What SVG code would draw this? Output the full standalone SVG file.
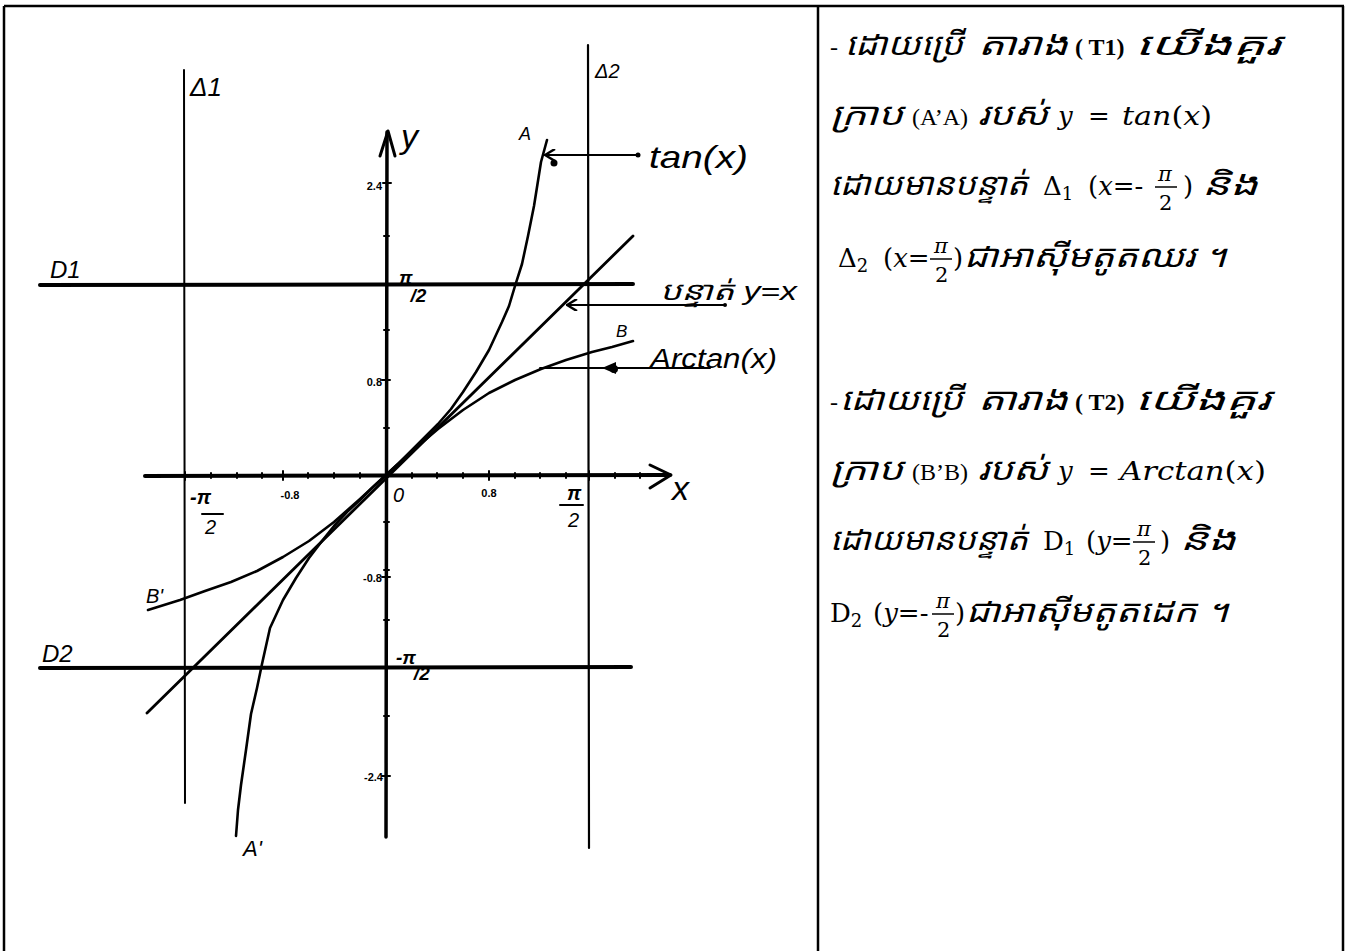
<svg xmlns="http://www.w3.org/2000/svg" width="1350" height="951" viewBox="0 0 1350 951">
<style>
.bd{stroke:#000;stroke-width:2.5;fill:none}
.ln{stroke:#000;fill:none;stroke-linecap:round;stroke-linejoin:round}
.hw{font-family:"Liberation Sans",sans-serif;font-style:italic;fill:#000}
.hs{font-family:"Liberation Sans",sans-serif;font-weight:bold;fill:#000;font-size:11px}
.km{font-family:"Noto Sans Khmer","Khmer OS","Noto Sans",sans-serif;font-style:italic;font-size:31px;fill:#000}
.tm{font-family:"Liberation Serif",serif;font-size:24px;fill:#000}
.tb{font-family:"Liberation Serif",serif;font-size:24px;font-weight:bold;fill:#000}
.mi{font-family:"DejaVu Serif",serif;font-style:italic;font-size:26px;fill:#000}
.mn{font-family:"DejaVu Serif",serif;font-size:26px;fill:#000}
.fi{font-family:"DejaVu Serif",serif;font-style:italic;font-size:21px;fill:#000}
.fn{font-family:"DejaVu Serif",serif;font-size:21px;fill:#000}
.sb{font-size:18px}
</style>
<defs>
<marker id="ah" viewBox="0 0 12 12" refX="11" refY="6" markerWidth="12" markerHeight="12" markerUnits="userSpaceOnUse" orient="auto">
<path d="M1,0 L11,6 L1,12" fill="none" stroke="#000" stroke-width="2.5"/>
</marker>
</defs>
<rect width="1350" height="951" fill="#fff"/>

<g id="table">
<line class="bd" x1="4" y1="6" x2="1344" y2="6"/>
<line class="bd" x1="4" y1="6" x2="4" y2="951"/>
<line class="bd" x1="818" y1="6" x2="818" y2="951"/>
<line class="bd" x1="1343" y1="6" x2="1343" y2="951"/>
</g>

<g id="asymptotes">
<line class="ln" x1="184" y1="70" x2="185" y2="803" stroke-width="2"/>
<line class="ln" x1="588" y1="45" x2="589" y2="848" stroke-width="2.2"/>
<line class="ln" x1="40" y1="285" x2="633" y2="284" stroke-width="4"/>
<line class="ln" x1="40" y1="668" x2="631" y2="667" stroke-width="4"/>
<text class="hw" x="190" y="96" font-size="26">Δ1</text>
<text class="hw" x="595" y="78" font-size="20">Δ2</text>
<text class="hw" x="50" y="278" font-size="24">D1</text>
<text class="hw" x="42" y="662" font-size="24">D2</text>
</g>

<g id="axes">
<line class="ln" x1="145" y1="476" x2="670" y2="475" stroke-width="4"/>
<path class="ln" d="M650,465 L671,475 L650,488" stroke-width="3"/>
<line class="ln" x1="387" y1="132" x2="386" y2="837" stroke-width="3.5"/>
<path class="ln" d="M380,156 L388,131 L395,156" stroke-width="3"/>
<g class="ln" stroke-width="2">
<path d="M185,472v8 M211,473v5 M237,473v5 M262,473v5 M283,471v9 M308,473v5 M334,473v5 M360,473v5 M412,473v5 M437,473v5 M463,473v5 M489,471v9 M515,473v5 M540,473v5 M566,473v5 M589,471v9 M615,473v5 M640,473v5"/>
<path d="M383,183h8 M384,236h5 M384,284h5 M384,330h5 M382,380h8 M384,428h5 M384,522h5 M384,570h5 M382,577h8 M384,620h5 M384,716h5 M382,776h8"/>
</g>
<text class="hw" x="401" y="148" font-size="34">y</text>
<text class="hw" x="672" y="500" font-size="34">x</text>
<text class="hw" x="393" y="502" font-size="20">0</text>
<text class="hs" x="382" y="190" text-anchor="end">2.4</text>
<text class="hs" x="382" y="386" text-anchor="end">0.8</text>
<text class="hs" x="382" y="582" text-anchor="end">-0.8</text>
<text class="hs" x="383" y="781" text-anchor="end">-2.4</text>
<text class="hs" x="290" y="499" text-anchor="middle">-0.8</text>
<text class="hs" x="489" y="497" text-anchor="middle">0.8</text>
<text class="hw" x="190" y="504" font-size="20" font-style="normal" font-weight="bold">-π</text>
<line class="ln" x1="202" y1="514" x2="223" y2="514" stroke-width="2"/>
<text class="hw" x="205" y="534" font-size="20">2</text>
<text class="hw" x="567" y="500" font-size="20" font-style="normal" font-weight="bold">π</text>
<line class="ln" x1="560" y1="505" x2="583" y2="505" stroke-width="2"/>
<text class="hw" x="568" y="527" font-size="20">2</text>
<text class="hw" x="399" y="284" font-size="19" font-weight="bold">π<tspan dx="-2" dy="18">/2</tspan></text>
<text class="hw" x="396" y="664" font-size="19" font-weight="bold">-π<tspan dx="-2" dy="16">/2</tspan></text>
</g>

<g id="curve-tan">
<polyline class="ln" stroke-width="2.6" points="236,836 238,810 241,785 246,750 251,714 257,688 262,664 270,628 283,600 296,578 309,558 322,541 334,526 347,512 360,500 373,487 386,475 399,463 412,450 425,437 438,424 451,409 463,392 476,372 489,350 502,322 509,306 515,286 522,264 528,236 534,206 541,162 547,140"/>
<text class="hw" x="519" y="140" font-size="18">A</text>
<text class="hw" x="243" y="856" font-size="22">A'</text>
</g>

<g id="curve-arctan">
<polyline class="ln" stroke-width="2.6" points="148,610 164,605 180,600 205,591 231,582 257,571 283,557 309,541 334,522 360,499 386,475 412,451 438,429 463,410 489,393 515,380 541,369 566,360 592,352 612,347 633,341"/>
<text class="hw" x="616" y="337" font-size="17" font-style="normal">B</text>
<text class="hw" x="146" y="603" font-size="20" font-style="normal">B'</text>
</g>

<g id="line-yx">
<line class="ln" x1="147" y1="713" x2="633" y2="236" stroke-width="2.8"/>
</g>

<g id="connectors">
<line class="ln" x1="638" y1="155" x2="545" y2="155" stroke-width="2" marker-end="url(#ah)"/>
<circle cx="638" cy="155" r="2.5"/>
<circle cx="554" cy="163" r="3.5"/>
<line class="ln" x1="725" y1="305" x2="567" y2="305" stroke-width="2" marker-end="url(#ah)"/>
<circle cx="725" cy="305" r="2"/>
<line class="ln" x1="710" y1="368" x2="540" y2="368" stroke-width="2"/>
<path d="M602,368 L616,362 L616,374 Z" fill="#000"/>
<circle cx="614" cy="369" r="4"/>
</g>

<g id="label-tan">
<text class="hw" x="649" y="168" font-size="32" font-style="normal" textLength="99" lengthAdjust="spacingAndGlyphs">tan(x)</text>
</g>
<g id="label-yx">
<text class="hw" x="660" y="300" font-size="26" textLength="137" lengthAdjust="spacingAndGlyphs"><tspan font-family="Noto Sans Khmer,Khmer OS,Noto Sans,sans-serif">បន្ទាត់</tspan> y=x</text>
</g>
<g id="label-arctan">
<text class="hw" x="650" y="368" font-size="27" textLength="127" lengthAdjust="spacingAndGlyphs">Arctan(x)</text>
</g>

<g id="text-block">
<text class="tm" x="830" y="55">-</text>
<text class="km" x="845" y="55" textLength="118" lengthAdjust="spacingAndGlyphs">ដោយប្រើ</text>
<text class="km" x="978" y="55" textLength="90" lengthAdjust="spacingAndGlyphs">តារាង</text>
<text class="tb" x="1075" y="55">( T1)</text>
<text class="km" x="1135" y="55" textLength="145" lengthAdjust="spacingAndGlyphs">យើងគួរ</text>

<text class="km" x="830" y="125" textLength="73" lengthAdjust="spacingAndGlyphs">ក្រាប</text>
<text class="tm" x="912" y="125">(A’A)</text>
<text class="km" x="978" y="125" textLength="70" lengthAdjust="spacingAndGlyphs">របស់</text>
<text class="mi" x="1058" y="125">y</text>
<text class="mn" x="1088" y="125">=</text>
<text class="mi" x="1122" y="125" textLength="90" lengthAdjust="spacingAndGlyphs">tan<tspan font-style="normal">(</tspan>x<tspan font-style="normal">)</tspan></text>

<text class="km" x="830" y="195" textLength="198" lengthAdjust="spacingAndGlyphs">ដោយមានបន្ទាត់</text>
<text class="mn" x="1043" y="195" font-size="28">Δ<tspan class="sb" dy="5">1</tspan></text>
<text class="mn" x="1088" y="195">(<tspan font-style="italic">x</tspan>=-</text>
<text class="fi" x="1158" y="181">π</text>
<line x1="1155" y1="187" x2="1177" y2="187" stroke="#000" stroke-width="1.5"/>
<text class="fn" x="1159" y="210">2</text>
<text class="mn" x="1183" y="195">)</text>
<text class="km" x="1202" y="195" textLength="56" lengthAdjust="spacingAndGlyphs">និង</text>

<text class="mn" x="838" y="267" font-size="28">Δ<tspan class="sb" dy="5">2</tspan></text>
<text class="mn" x="883" y="267">(<tspan font-style="italic">x</tspan>=</text>
<text class="fi" x="934" y="253">π</text>
<line x1="930" y1="259" x2="952" y2="259" stroke="#000" stroke-width="1.5"/>
<text class="fn" x="935" y="282">2</text>
<text class="mn" x="953" y="267">)</text>
<text class="km" x="964" y="267" textLength="262" lengthAdjust="spacingAndGlyphs">ជាអាស៊ីមតូតឈរ ។</text>

<text class="tm" x="830" y="410">-</text>
<text class="km" x="840" y="410" textLength="123" lengthAdjust="spacingAndGlyphs">ដោយប្រើ</text>
<text class="km" x="978" y="410" textLength="90" lengthAdjust="spacingAndGlyphs">តារាង</text>
<text class="tb" x="1075" y="410">( T2)</text>
<text class="km" x="1135" y="410" textLength="135" lengthAdjust="spacingAndGlyphs">យើងគួរ</text>

<text class="km" x="830" y="480" textLength="73" lengthAdjust="spacingAndGlyphs">ក្រាប</text>
<text class="tm" x="912" y="480">(B’B)</text>
<text class="km" x="978" y="480" textLength="70" lengthAdjust="spacingAndGlyphs">របស់</text>
<text class="mi" x="1058" y="480">y</text>
<text class="mn" x="1088" y="480">=</text>
<text class="mi" x="1120" y="480" textLength="146" lengthAdjust="spacingAndGlyphs">Arctan<tspan font-style="normal">(</tspan>x<tspan font-style="normal">)</tspan></text>

<text class="km" x="830" y="550" textLength="198" lengthAdjust="spacingAndGlyphs">ដោយមានបន្ទាត់</text>
<text class="mn" x="1043" y="550" font-size="27">D<tspan class="sb" dy="5">1</tspan></text>
<text class="mn" x="1086" y="550">(<tspan font-style="italic">y</tspan>=</text>
<text class="fi" x="1137" y="536">π</text>
<line x1="1133" y1="542" x2="1155" y2="542" stroke="#000" stroke-width="1.5"/>
<text class="fn" x="1138" y="565">2</text>
<text class="mn" x="1160" y="550">)</text>
<text class="km" x="1180" y="550" textLength="56" lengthAdjust="spacingAndGlyphs">និង</text>

<text class="mn" x="830" y="622" font-size="27">D<tspan class="sb" dy="5">2</tspan></text>
<text class="mn" x="873" y="622">(<tspan font-style="italic">y</tspan>=-</text>
<text class="fi" x="936" y="608">π</text>
<line x1="932" y1="614" x2="954" y2="614" stroke="#000" stroke-width="1.5"/>
<text class="fn" x="937" y="637">2</text>
<text class="mn" x="955" y="622">)</text>
<text class="km" x="966" y="622" textLength="262" lengthAdjust="spacingAndGlyphs">ជាអាស៊ីមតូតដេក ។</text>
</g>
</svg>
